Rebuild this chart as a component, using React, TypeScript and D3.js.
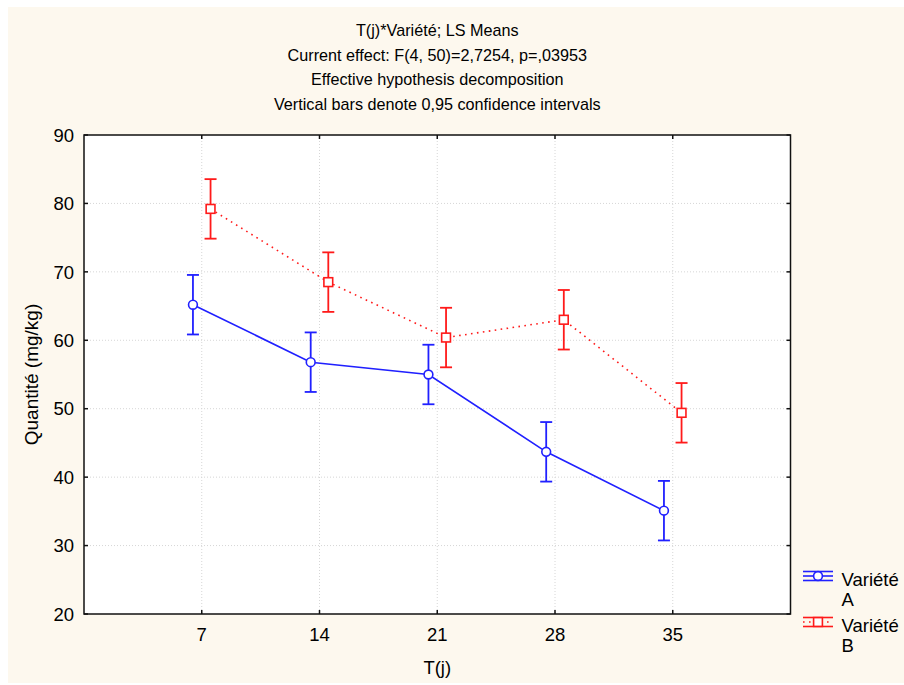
import React from "react";
import * as d3 from "d3";

// LS means of quantity per sampling day, for each variety
const days = [7, 14, 21, 28, 35];
const meanA = [65.2, 56.8, 55.0, 43.7, 35.1];
const meanB = [79.2, 68.5, 60.4, 63.0, 49.4];
// half-width of the 0.95 confidence interval (pooled error, equal n)
const ciHalf = 4.35;

const yTicks = [20, 30, 40, 50, 60, 70, 80, 90];
const xTicks = days;

const titleLines = [
  "T(j)*Variété; LS Means",
  "Current effect: F(4, 50)=2,7254, p=,03953",
  "Effective hypothesis decomposition",
  "Vertical bars denote 0,95 confidence intervals",
];

const W = 904;
const H = 685;
const plot = { left: 84, right: 790.5, top: 135, bottom: 614 };
const FONT = "'Liberation Sans', Arial, sans-serif";
const BLUE = "#2020ff";
const RED = "#ff1a1a";
const DODGE = 8.8;

export default function App() {
  const x = d3.scaleLinear().domain([0, 42]).range([plot.left, plot.right]);
  const y = d3.scaleLinear().domain([20, 90]).range([plot.bottom, plot.top]);

  const series = [
    { key: "A", values: meanA, color: BLUE, dx: -DODGE, dash: undefined as string | undefined, shape: "circle" },
    { key: "B", values: meanB, color: RED, dx: DODGE, dash: "1.6,4.4", shape: "square" },
  ];

  const line = (vals: number[], dx: number) =>
    d3
      .line<number>()
      .x((_, i) => x(days[i]) + dx)
      .y((v) => y(v))(vals) || "";

  const tick = 4;
  const cx = (plot.left + plot.right) / 2;
  const cy = (plot.top + plot.bottom) / 2;

  const legendX = 803;
  const legendW = 30;
  const legendRows = [
    { s: series[0], cy: 576, label: ["Variété", "A"] },
    { s: series[1], cy: 622, label: ["Variété", "B"] },
  ];

  const marker = (shape: string, px: number, py: number, color: string, k: string) =>
    shape === "circle" ? (
      <circle key={k} cx={px} cy={py} r={4.4} fill="#fff" stroke={color} strokeWidth={1.6} />
    ) : (
      <rect key={k} x={px - 4.4} y={py - 4.4} width={8.8} height={8.8} fill="#fff" stroke={color} strokeWidth={1.6} />
    );

  return (
    <svg
      width={W}
      height={H}
      style={{ position: "absolute", left: 0, top: 0, fontFamily: FONT }}
    >
      <rect x={8} y={7} width={896} height={676} fill="#fdf8ee" />

      {/* titles */}
      {titleLines.map((t, i) => (
        <text key={t} x={cx} y={36 + i * 24.6} textAnchor="middle" fontSize={16.2} fill="#000">
          {t}
        </text>
      ))}

      {/* plot area */}
      <rect
        x={plot.left}
        y={plot.top}
        width={plot.right - plot.left}
        height={plot.bottom - plot.top}
        fill="#fff"
      />

      {/* grid */}
      <g stroke="#d6d6d6" strokeWidth={1} strokeDasharray="1,2">
        {yTicks
          .filter((t) => t !== 20 && t !== 90)
          .map((t) => (
            <line key={"gy" + t} x1={plot.left} x2={plot.right} y1={y(t)} y2={y(t)} />
          ))}
        {xTicks.map((t) => (
          <line key={"gx" + t} x1={x(t)} x2={x(t)} y1={plot.top} y2={plot.bottom} />
        ))}
      </g>

      {/* series lines */}
      {series.map((s) => (
        <path
          key={"l" + s.key}
          d={line(s.values, s.dx)}
          fill="none"
          stroke={s.color}
          strokeWidth={1.6}
          strokeDasharray={s.dash}
        />
      ))}

      {/* confidence interval bars */}
      {series.map((s) =>
        s.values.map((v, i) => {
          const px = x(days[i]) + s.dx;
          const y1 = y(v + ciHalf);
          const y2 = y(v - ciHalf);
          return (
            <g key={"e" + s.key + i} stroke={s.color} strokeWidth={1.8}>
              <line x1={px} x2={px} y1={y1} y2={y2} />
              <line x1={px - 6} x2={px + 6} y1={y1} y2={y1} />
              <line x1={px - 6} x2={px + 6} y1={y2} y2={y2} />
            </g>
          );
        })
      )}

      {/* markers */}
      {series.map((s) =>
        s.values.map((v, i) => marker(s.shape, x(days[i]) + s.dx, y(v), s.color, "m" + s.key + i))
      )}

      {/* frame and ticks */}
      <g stroke="#111" strokeWidth={1.5}>
        <rect
          x={plot.left}
          y={plot.top}
          width={plot.right - plot.left}
          height={plot.bottom - plot.top}
          fill="none"
        />
        {yTicks.map((t) => (
          <g key={"ty" + t}>
            <line x1={plot.left} x2={plot.left + tick} y1={y(t)} y2={y(t)} />
            <line x1={plot.right - tick} x2={plot.right} y1={y(t)} y2={y(t)} />
          </g>
        ))}
        {xTicks.map((t) => (
          <g key={"tx" + t}>
            <line x1={x(t)} x2={x(t)} y1={plot.bottom} y2={plot.bottom - tick} />
            <line x1={x(t)} x2={x(t)} y1={plot.top} y2={plot.top + tick} />
          </g>
        ))}
      </g>

      {/* tick labels */}
      {yTicks.map((t) => (
        <text key={"ly" + t} x={74} y={y(t)} dy="0.36em" textAnchor="end" fontSize={18.5} fill="#000">
          {t}
        </text>
      ))}
      {xTicks.map((t) => (
        <text key={"lx" + t} x={x(t)} y={641} textAnchor="middle" fontSize={18.5} fill="#000">
          {t}
        </text>
      ))}

      {/* axis titles */}
      <text x={cx} y={674} textAnchor="middle" fontSize={18.5} fill="#000">
        T(j)
      </text>
      <text
        transform={`translate(38,${cy}) rotate(-90)`}
        textAnchor="middle"
        fontSize={19}
        fill="#000"
      >
        Quantité (mg/kg)
      </text>

      {/* legend */}
      {legendRows.map(({ s, cy: ly, label }) => {
        const mx = legendX + legendW / 2;
        return (
          <g key={"lg" + s.key}>
            <g stroke={s.color} strokeWidth={1.6}>
              <line x1={legendX} x2={legendX + legendW} y1={ly - 4.5} y2={ly - 4.5} />
              <line x1={legendX} x2={legendX + legendW} y1={ly + 4.5} y2={ly + 4.5} />
              <line x1={mx} x2={mx} y1={ly - 4.5} y2={ly + 4.5} />
              <line
                x1={legendX}
                x2={legendX + legendW}
                y1={ly}
                y2={ly}
                strokeDasharray={s.dash}
              />
            </g>
            {marker(s.shape, mx, ly, s.color, "lm" + s.key)}
            <text x={841.5} y={ly + 10} fontSize={18.5} fill="#000">
              <tspan x={841.5}>{label[0]}</tspan>
              <tspan x={841.5} dy={20}>
                {label[1]}
              </tspan>
            </text>
          </g>
        );
      })}
    </svg>
  );
}
